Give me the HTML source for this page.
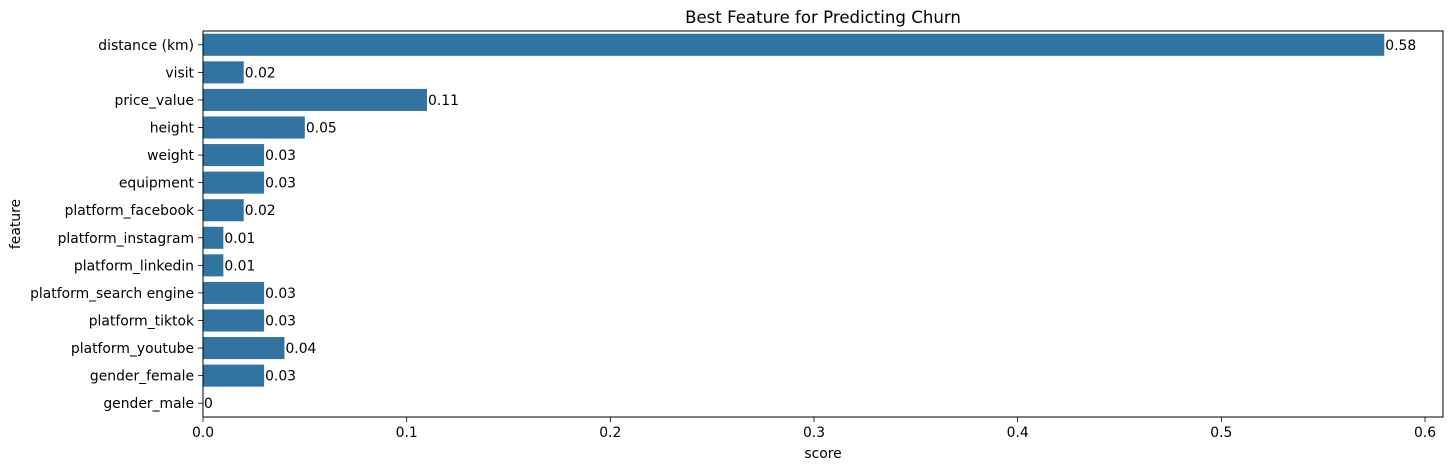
<!DOCTYPE html>
<html><head><meta charset="utf-8"><style>
body{margin:0;background:#fff;}
svg text{font-family:"DejaVu Sans","Liberation Sans",sans-serif;font-size:13.9px;fill:#000;}
</style></head><body>
<svg id="chart" width="1453" height="470" xmlns="http://www.w3.org/2000/svg">
<text x="823" y="23" text-anchor="middle" style="font-size:16.6px">Best Feature for Predicting Churn</text>
<text x="823" y="458" text-anchor="middle">score</text>
<text x="20" y="224" text-anchor="middle" transform="rotate(-90 20 224)">feature</text>
<g id="plot"></g>
</svg>
<script>
const categories=["distance (km)","visit","price_value","height","weight","equipment","platform_facebook","platform_instagram","platform_linkedin","platform_search engine","platform_tiktok","platform_youtube","gender_female","gender_male"];
const scores=[0.58,0.02,0.11,0.05,0.03,0.03,0.02,0.01,0.01,0.03,0.03,0.04,0.03,0];
const labels=["0.58","0.02","0.11","0.05","0.03","0.03","0.02","0.01","0.01","0.03","0.03","0.04","0.03","0"];
const xTicks=[0,0.1,0.2,0.3,0.4,0.5,0.6];
const xTickLabels=["0.0","0.1","0.2","0.3","0.4","0.5","0.6"];
const NS="http://www.w3.org/2000/svg";
const L=203,R=1443,T=31,B=417;
const xs=v=>L+v*2036.7;
const step=(B-T)/categories.length;
const yc=i=>T+step*(i+0.5);
const g=document.getElementById('plot');
function mk(t,a){const e=document.createElementNS(NS,t);for(const k in a)e.setAttribute(k,a[k]);g.appendChild(e);return e;}
categories.forEach((c,i)=>{
 const bh=step*0.8;
 const r=mk('rect',{x:L,y:yc(i)-bh/2,width:xs(scores[i])-L,height:bh,fill:'#3274a1'});
 
 
 const v=mk('text',{x:xs(scores[i])+1,y:yc(i)+5});
 v.textContent=labels[i];
 
 
 mk('line',{x1:L-5,x2:L,y1:yc(i),y2:yc(i),stroke:'#000','stroke-width':0.8});
 const t=mk('text',{x:L-9,y:yc(i)+5,'text-anchor':'end'});
 t.textContent=c;
 
 
});
xTicks.forEach((v,i)=>{
 mk('line',{x1:xs(v),x2:xs(v),y1:B,y2:B+5,stroke:'#000','stroke-width':0.8});
 const t=mk('text',{x:xs(v),y:B+20,'text-anchor':'middle'});
 t.textContent=xTickLabels[i];
 
 
});
const f=mk('rect',{x:L,y:T,width:R-L,height:B-T,fill:'none',stroke:'#000','stroke-width':1});


</script>
</body></html>
